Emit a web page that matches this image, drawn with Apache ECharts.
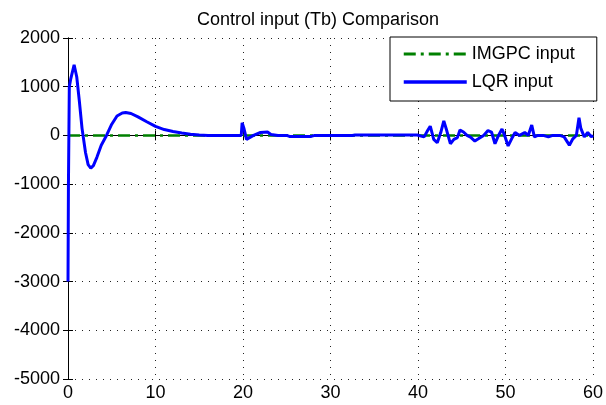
<!DOCTYPE html>
<html><head><meta charset="utf-8">
<script src="https://cdn.jsdelivr.net/npm/echarts@6/dist/echarts.min.js"></script>
<style>html,body{margin:0;padding:0;background:#fff}#c{width:606px;height:405px}</style>
</head><body><div id="c"></div>
<script>
const titleText = 'Control input (Tb) Comparison';
const seriesNames = ['IMGPC input', 'LQR input'];
const xTicks = [0, 10, 20, 30, 40, 50, 60];
const yTicks = [-5000, -4000, -3000, -2000, -1000, 0, 1000, 2000];

const imgpcT = [0, 60];
const imgpcV = [0, 0];

const lqrT = [0, 0.05, 0.15, 0.3, 0.5, 0.7, 0.85, 1.0, 1.3, 1.6, 2.0, 2.3, 2.6, 2.9, 3.3, 3.8, 4.4, 5.0, 5.6, 6.2, 6.6, 7.2, 8, 9, 10, 11, 12, 13, 14, 15, 16, 19.8, 19.9, 20.1, 20.4, 20.8, 21.2, 22, 22.8, 23.2, 24, 25, 25.3, 27.8, 28.2, 32.5, 32.8, 39.9, 40.1, 40.7, 41.1, 41.4, 41.8, 42.2, 42.6, 42.95, 43.3, 43.7, 44.1, 44.5, 44.8, 45.2, 45.6, 46.0, 46.5, 46.9, 47.5, 48.0, 48.4, 48.8, 49.2, 49.6, 49.9, 50.3, 50.7, 51.1, 51.6, 52.2, 52.6, 53.0, 53.3, 53.7, 54.3, 54.9, 55.4, 56.2, 56.7, 57.3, 57.7, 58.1, 58.4, 58.6, 59.0, 59.4, 59.8, 60];
const lqrV = [-3000, -1000, 1000, 1150, 1300, 1450, 1420, 1200, 700, 150, -350, -600, -670, -620, -450, -200, 0, 230, 400, 460, 470, 450, 380, 280, 185, 120, 80, 50, 25, 10, 0, 0, 260, 150, -80, -40, 0, 60, 70, 20, 0, 0, -20, -20, 0, 0, 10, 10, 0, -30, 100, 190, -80, -150, 60, 300, 90, -170, -80, -45, 110, 70, 0, -35, -115, -70, 0, 100, 70, -170, 0, 130, 0, -215, -70, 60, 0, 60, 0, 215, -30, 0, 0, -30, 0, 0, -30, -200, -70, 0, 365, 150, -30, 60, -30, 0];

const FONT = "'Liberation Sans', Arial, sans-serif";
const zip = (a, b) => a.map((v, i) => [v, b[i]]);

const chart = echarts.init(document.getElementById('c'), null, {renderer: 'canvas'});
const axisLine = {show: true, lineStyle: {color: '#000', width: 1}};
const tick = {show: true, inside: true, length: 5, lineStyle: {color: '#000'}};
const grid = {show: true, lineStyle: {color: '#222', width: 1, type: [1, 6]}};
const plain = v => String(v);
chart.setOption({
  animation: false,
  backgroundColor: '#fff',
  title: {text: titleText, left: 197, top: 11, padding: 0,
    textStyle: {fontFamily: FONT, fontSize: 18, fontWeight: 'normal', color: '#000'}},
  grid: {left: 68, right: 9, top: 38, bottom: 26, containLabel: false},
  legend: {
    data: [
      {name: seriesNames[0], lineStyle: {width: 3, type: [12, 5, 3, 5], color: '#008000'}},
      {name: seriesNames[1], lineStyle: {width: 3.5, color: '#0000ff'}}
    ],
    orient: 'vertical', left: 390, top: 37,
    padding: [8, 22, 10, 12], itemWidth: 63, itemHeight: 18, itemGap: 10,
    borderColor: '#000', borderWidth: 1, backgroundColor: '#fff',
    itemStyle: {opacity: 0},
    textStyle: {fontFamily: FONT, fontSize: 18, color: '#000'}
  },
  xAxis: [
    {type: 'value', min: xTicks[0], max: xTicks[xTicks.length - 1], interval: 10,
     axisLine: axisLine, axisTick: tick, splitLine: grid,
     axisLabel: {fontFamily: FONT, fontSize: 18, color: '#000', margin: 5, formatter: plain}},
    {type: 'value', position: 'top', min: 0, max: 60, interval: 10,
     axisLine: axisLine, axisTick: tick, splitLine: {show: false}, axisLabel: {show: false}}
  ],
  yAxis: [
    {type: 'value', min: yTicks[0], max: yTicks[yTicks.length - 1], interval: 1000,
     axisLine: axisLine, axisTick: tick, splitLine: grid,
     axisLabel: {fontFamily: FONT, fontSize: 18, color: '#000', margin: 8, formatter: plain}},
    {type: 'value', position: 'right', min: -5000, max: 2000, interval: 1000,
     axisLine: axisLine, axisTick: tick, splitLine: {show: false}, axisLabel: {show: false}}
  ],
  series: [
    {name: seriesNames[0], type: 'line', data: zip(imgpcT, imgpcV), symbol: 'none',
     lineStyle: {color: '#008000', width: 2.5, type: [12, 5, 3, 5]}, itemStyle: {color: '#008000'}},
    {name: seriesNames[1], type: 'line', data: zip(lqrT, lqrV), symbol: 'none',
     lineStyle: {color: '#0000ff', width: 3}, itemStyle: {color: '#0000ff'}}
  ]
});
</script></body></html>
